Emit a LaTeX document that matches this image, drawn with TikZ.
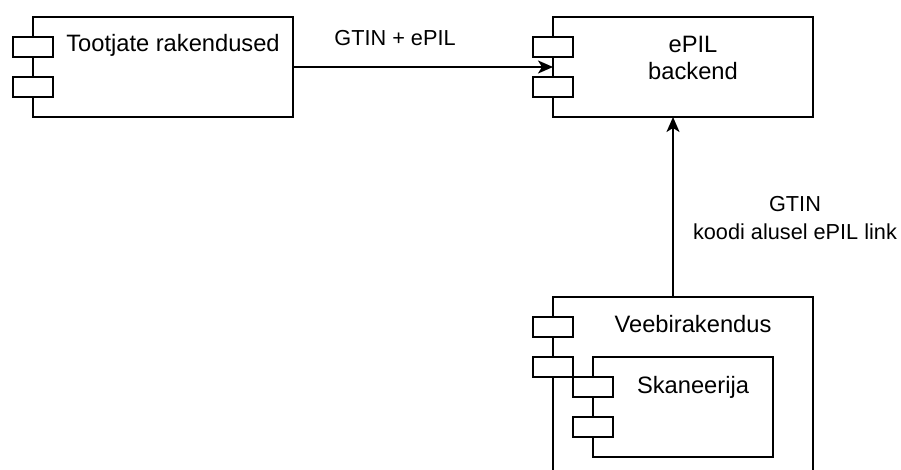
\documentclass[tikz,border=0pt]{standalone}
\usepackage{fontspec}
\setmainfont{Liberation Sans}
\usetikzlibrary{arrows.meta}

\tikzset{
  ln/.style={line width=2pt, draw=black},
  comp/.style={ln, fill=white, anchor=north west, inner sep=0pt, outer sep=0pt},
  portbox/.style={ln, fill=white},
  ntext/.style={anchor=base, inner sep=0pt, font=\fontsize{23.7}{28}\selectfont},
  etext/.style={anchor=base, inner sep=0pt, font=\fontsize{21.7}{26}\selectfont},
  arr/.style={ln, -{Stealth[length=15pt, width=13pt, inset=4pt]}},
  pics/ports/.style={code={
    \path[portbox] (-20,20) rectangle (20,40);
    \path[portbox] (-20,60) rectangle (20,80);
  }}
}

\begin{document}
\begin{tikzpicture}[x=1pt, y=-1pt]
\useasboundingbox (0,0) rectangle (901,470);

% Tootjate rakendused
\node[comp, minimum width=260pt, minimum height=100pt] (tr) at (33,17) {};
\pic at (tr.north west) {ports};
\node[ntext] (trt) at (173,52) {Tootjate rakendused};

% ePIL backend
\node[comp, minimum width=260pt, minimum height=100pt] (be) at (553,17) {};
\pic at (be.north west) {ports};
\node[ntext] (bet1) at (693,53) {ePIL};
\node[ntext] (bet2) at (693,80) {backend};

% Veebirakendus with the nested Skaneerija component
\node[comp, minimum width=260pt, minimum height=190pt] (vb) at (553,297) {};
\pic at (vb.north west) {ports};
\node[ntext] (vbt) at (693,332) {Veebirakendus};

\node[comp, minimum width=180pt, minimum height=100pt] (sk) at (593,357) {};
\pic at (sk.north west) {ports};
\node[ntext] (skt) at (693,393) {Skaneerija};

% connectors
\coordinate (ax) at (673,0);
\draw[arr] (tr.east) -- (be.west);
\node[etext] (l1) at (395,46) {GTIN + ePIL};

\draw[arr] (vb.north -| ax) -- (be.south -| ax);
\node[etext] (l2a) at (795,212) {GTIN};
\node[etext] (l2b) at (795,240) {koodi alusel ePIL link};
\end{tikzpicture}
\end{document}
